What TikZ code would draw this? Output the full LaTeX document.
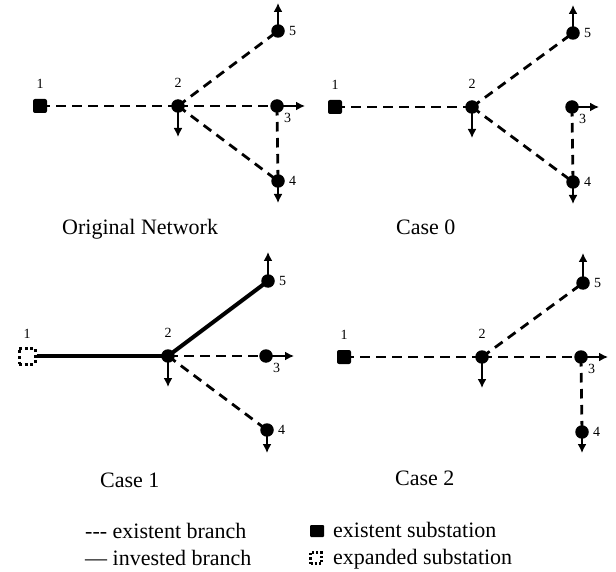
\documentclass[tikz,border=0pt]{standalone}
\usepackage{fontspec}
\setmainfont{Liberation Serif}
\usetikzlibrary{positioning, arrows.meta}

\begin{document}
\begin{tikzpicture}[x=1pt, y=-1pt,
        bus/.style={circle, fill=black, inner sep=0pt, minimum size=13.5pt},
        sub/.style={rectangle, fill=black, rounded corners=2pt, inner sep=0pt, minimum size=14pt},
        newsub/.style={rectangle, draw=black, line width=3pt, dash pattern=on 3pt off 2.6pt, inner sep=0pt, minimum size=16pt},
        exbranch/.style={line width=2.8pt, dash pattern=on 9.5pt off 6.5pt},
        invbranch/.style={line width=4pt},
        load/.style={line width=1.6pt, -{Latex[length=9pt, width=9pt]}},
        num/.style={inner sep=0pt, font=\fontsize{14}{14}\selectfont},
        caption/.style={anchor=base west, inner sep=0pt, font=\fontsize{22}{22}\selectfont}]

        \useasboundingbox (0,0) rectangle (616,572);

        % Original network
        \pgfmathsetmacro{\dx}{178}
        \pgfmathsetmacro{\dy}{106}

        \node[sub] (n1) at (-138 + \dx, 0 + \dy) {};
        \node[bus] (n2) at (0 + \dx, 0 + \dy) {};
        \node[bus] (n3) at (99 + \dx, 0 + \dy) {};
        \node[bus] (n4) at (100 + \dx, 75 + \dy) {};
        \node[bus] (n5) at (100 + \dx, -75 + \dy) {};

        \node[num, above=10pt of n1] {1};
        \node[num, above=11pt of n2] {2};
        \node[num, below right=2pt and 2pt of n3] {3};
        \node[num, right=4pt of n4] {4};
        \node[num, right=4pt of n5] {5};

        \coordinate (d2) at (0 + \dx, 31 + \dy);
        \coordinate (r3) at (127 + \dx, 0 + \dy);
        \coordinate (d4) at (100 + \dx, 97 + \dy);
        \coordinate (u5) at (100 + \dx, -103 + \dy);

        \draw[exbranch] (n1.center) -- (n2.center);
        \draw[exbranch] (n2.center) -- (n3.center);
        \draw[exbranch] (n2.center) -- (n4.center);
        \draw[exbranch] (n2.center) -- (n5.center);
        \draw[exbranch] (n3.center) -- (n4.center);

        \draw[load] (n2.center) -- (d2);
        \draw[load] (n3.center) -- (r3);
        \draw[load] (n4.center) -- (d4);
        \draw[load] (n5.center) -- (u5);

        \node[caption] at (62, 235) {Original Network};

        % Case 0
        \pgfmathsetmacro{\dx}{472}
        \pgfmathsetmacro{\dy}{107}

        \node[sub] (n1) at (-137 + \dx, 0 + \dy) {};
        \node[bus] (n2) at (0 + \dx, 0 + \dy) {};
        \node[bus] (n3) at (100 + \dx, 0 + \dy) {};
        \node[bus] (n4) at (101 + \dx, 75 + \dy) {};
        \node[bus] (n5) at (101 + \dx, -74 + \dy) {};

        \node[num, above=10pt of n1] {1};
        \node[num, above=11pt of n2] {2};
        \node[num, below right=2pt and 2pt of n3] {3};
        \node[num, right=4pt of n4] {4};
        \node[num, right=4pt of n5] {5};

        \coordinate (d2) at (0 + \dx, 31 + \dy);
        \coordinate (r3) at (127 + \dx, 0 + \dy);
        \coordinate (d4) at (101 + \dx, 97 + \dy);
        \coordinate (u5) at (101 + \dx, -102 + \dy);

        \draw[exbranch] (n1.center) -- (n2.center);
        \draw[exbranch] (n2.center) -- (n4.center);
        \draw[exbranch] (n2.center) -- (n5.center);
        \draw[exbranch] (n3.center) -- (n4.center);

        \draw[load] (n2.center) -- (d2);
        \draw[load] (n3.center) -- (r3);
        \draw[load] (n4.center) -- (d4);
        \draw[load] (n5.center) -- (u5);

        \node[caption] at (396, 235) {Case 0};

        % Case 1
        \pgfmathsetmacro{\dx}{168}
        \pgfmathsetmacro{\dy}{356}

        \node[newsub] (n1) at (-141 + \dx, 0 + \dy) {};
        \node[bus] (n2) at (0 + \dx, 0 + \dy) {};
        \node[bus] (n3) at (98 + \dx, 0 + \dy) {};
        \node[bus] (n4) at (99 + \dx, 74 + \dy) {};
        \node[bus] (n5) at (100 + \dx, -75 + \dy) {};

        \node[num, above=8pt of n1] {1};
        \node[num, above=11pt of n2] {2};
        \node[num, below right=2pt and 2pt of n3] {3};
        \node[num, right=4pt of n4] {4};
        \node[num, right=4pt of n5] {5};

        \coordinate (d2) at (0 + \dx, 31 + \dy);
        \coordinate (r3) at (126 + \dx, 0 + \dy);
        \coordinate (d4) at (99 + \dx, 97 + \dy);
        \coordinate (u5) at (100 + \dx, -104 + \dy);

        \draw[invbranch] (n1) -- (n2.center);
        \draw[invbranch] (n2.center) -- (n5.center);
        \draw[exbranch] (n2.center) -- (n3.center);
        \draw[exbranch] (n2.center) -- (n4.center);

        \draw[load] (n2.center) -- (d2);
        \draw[load] (n3.center) -- (r3);
        \draw[load] (n4.center) -- (d4);
        \draw[load] (n5.center) -- (u5);

        \node[caption] at (100, 487) {Case 1};

        % Case 2
        \pgfmathsetmacro{\dx}{482}
        \pgfmathsetmacro{\dy}{357}

        \node[sub] (n1) at (-138 + \dx, 0 + \dy) {};
        \node[bus] (n2) at (0 + \dx, 0 + \dy) {};
        \node[bus] (n3) at (99 + \dx, 0 + \dy) {};
        \node[bus] (n4) at (100 + \dx, 75 + \dy) {};
        \node[bus] (n5) at (101 + \dx, -74 + \dy) {};

        \node[num, above=10pt of n1] {1};
        \node[num, above=11pt of n2] {2};
        \node[num, below right=2pt and 2pt of n3] {3};
        \node[num, right=4pt of n4] {4};
        \node[num, right=4pt of n5] {5};

        \coordinate (d2) at (0 + \dx, 31 + \dy);
        \coordinate (r3) at (126 + \dx, 0 + \dy);
        \coordinate (d4) at (100 + \dx, 96 + \dy);
        \coordinate (u5) at (101 + \dx, -104 + \dy);

        \draw[exbranch] (n1.center) -- (n2.center);
        \draw[exbranch] (n2.center) -- (n3.center);
        \draw[exbranch] (n2.center) -- (n5.center);
        \draw[exbranch] (n3.center) -- (n4.center);

        \draw[load] (n2.center) -- (d2);
        \draw[load] (n3.center) -- (r3);
        \draw[load] (n4.center) -- (d4);
        \draw[load] (n5.center) -- (u5);

        \node[caption] at (395, 485) {Case 2};

        % Legend
        \node[caption] at (85, 538) {-{}-{}- existent branch};
        \node[caption] at (85, 565) {\textemdash\ invested branch};

        \node[sub, minimum width=14pt, minimum height=12pt, rounded corners=1pt] (k1) at (317, 531) {};
        \node[newsub, line width=2.2pt, dash pattern=on 2.2pt off 2pt, minimum size=11pt] (k2) at (316, 558) {};
        \node[caption] at (333, 537) {existent substation};
        \node[caption] at (333, 564) {expanded substation};
\end{tikzpicture}
\end{document}
